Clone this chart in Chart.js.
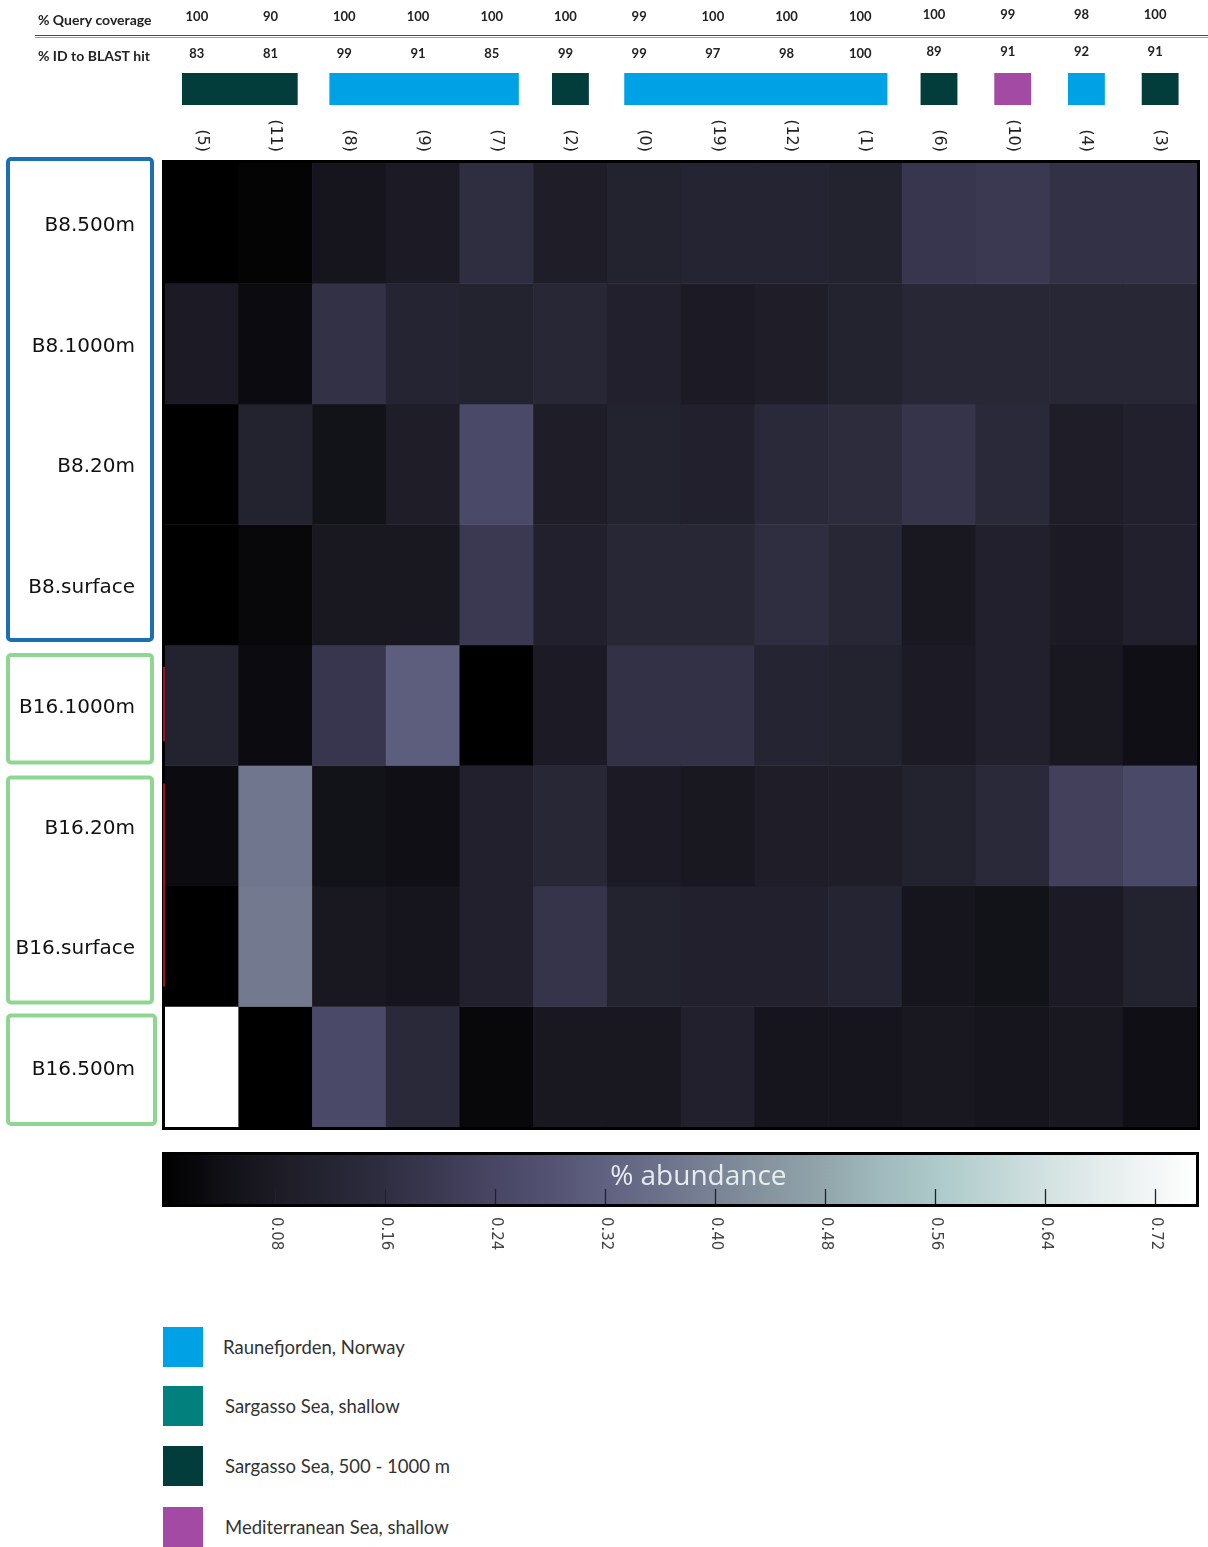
<!DOCTYPE html>
<html>
<head>
<meta charset="utf-8">
<script src="https://cdn.jsdelivr.net/npm/chart.js@4.4.1/dist/chart.umd.min.js"></script>
<style>
  html, body { margin: 0; padding: 0; background: #fff; }
  #page { position: relative; width: 1208px; height: 1547px; overflow: hidden; background: #fff; }
  #heat { position: absolute; left: 0; top: 0; }
  #scaleBar { position: absolute; left: 0; top: 1140px; }
  .leg { position: absolute; left: 163px; height: 40px; display: flex; align-items: center;
         font-family: Lato, "Open Sans", sans-serif; font-size: 18.5px; color: #333; white-space: nowrap; }
  .leg i { display: inline-block; width: 40px; height: 40px; margin-right: 20px; }
</style>
</head>
<body>
<div id="page">
  <canvas id="heat" width="1208" height="1140"></canvas>
  <canvas id="scaleBar" width="1208" height="130"></canvas>
  <div id="legend"></div>
</div>
<script>
// Phylotypes (columns), in plotted order
const columnIds = ['(5)', '(11)', '(8)', '(9)', '(7)', '(2)', '(0)', '(19)', '(12)', '(1)', '(6)', '(10)', '(4)', '(3)'];
const queryCoverage = [100, 90, 100, 100, 100, 100, 99, 100, 100, 100, 100, 99, 98, 100];
const idToBlastHit = [83, 81, 99, 91, 85, 99, 99, 97, 98, 100, 89, 91, 92, 91];

// Origin of the closest BLAST hit for each column (index into originNames)
const originNames = ['Raunefjorden, Norway', 'Sargasso Sea, shallow', 'Sargasso Sea, 500 - 1000 m', 'Mediterranean Sea, shallow'];
const originColors = ['#00a2e6', '#01807d', '#033d3b', '#a24aa4'];
const columnOrigin = [2, 2, 0, 0, 0, 2, 0, 0, 0, 0, 2, 3, 0, 2];

// Samples (rows)
const sampleLabels = ['B8.500m', 'B8.1000m', 'B8.20m', 'B8.surface', 'B16.1000m', 'B16.20m', 'B16.surface', 'B16.500m'];

// % abundance per sample, one value per column
const b8_500m     = [0.00, 0.01, 0.06, 0.08, 0.16, 0.09, 0.11, 0.12, 0.12, 0.11, 0.19, 0.20, 0.17, 0.17];
const b8_1000m    = [0.08, 0.03, 0.17, 0.12, 0.11, 0.13, 0.10, 0.08, 0.09, 0.11, 0.13, 0.13, 0.13, 0.13];
const b8_20m      = [0.00, 0.11, 0.05, 0.09, 0.25, 0.09, 0.11, 0.10, 0.14, 0.15, 0.18, 0.14, 0.09, 0.10];
const b8_surface  = [0.00, 0.02, 0.07, 0.07, 0.20, 0.10, 0.13, 0.13, 0.16, 0.13, 0.07, 0.10, 0.08, 0.10];
const b16_1000m   = [0.11, 0.03, 0.19, 0.31, 0.00, 0.08, 0.17, 0.17, 0.12, 0.11, 0.08, 0.10, 0.07, 0.04];
const b16_20m     = [0.03, 0.37, 0.05, 0.04, 0.10, 0.13, 0.08, 0.07, 0.09, 0.09, 0.11, 0.14, 0.22, 0.25];
const b16_surface = [0.00, 0.38, 0.07, 0.06, 0.10, 0.18, 0.11, 0.10, 0.10, 0.12, 0.06, 0.05, 0.08, 0.11];
const b16_500m    = [0.75, 0.00, 0.25, 0.14, 0.02, 0.07, 0.07, 0.10, 0.06, 0.06, 0.07, 0.06, 0.07, 0.04];
const abundanceRows = [b8_500m, b8_1000m, b8_20m, b8_surface, b16_1000m, b16_20m, b16_surface, b16_500m];

// Colour scale
const abundanceMin = 0;
const abundanceMax = 0.75;
const colorbarTicks = [0.08, 0.16, 0.24, 0.32, 0.40, 0.48, 0.56, 0.64, 0.72];

// black -> dusky violet -> grey-teal -> white
const rampStops = [
  [0.00, 0, 0, 0], [0.04, 15, 15, 21], [0.08, 28, 27, 37], [0.12, 37, 36, 50],
  [0.16, 47, 46, 65], [0.20, 59, 57, 82], [0.24, 72, 70, 100], [0.28, 83, 82, 114],
  [0.32, 96, 97, 128], [0.36, 108, 113, 138], [0.40, 121, 131, 149], [0.44, 134, 149, 160],
  [0.48, 146, 166, 171], [0.52, 159, 185, 188], [0.56, 172, 201, 201], [0.60, 191, 213, 213],
  [0.64, 210, 225, 225], [0.68, 228, 236, 236], [0.72, 243, 246, 246], [0.75, 255, 255, 255]
];
function colorFor(v) {
  if (v <= rampStops[0][0]) return `rgb(${rampStops[0].slice(1).join(',')})`;
  for (let i = 1; i < rampStops.length; i++) {
    const a = rampStops[i - 1], b = rampStops[i];
    if (v <= b[0]) {
      const t = (v - a[0]) / (b[0] - a[0]);
      const c = [1, 2, 3].map(k => Math.round(a[k] + (b[k] - a[k]) * t));
      return `rgb(${c.join(',')})`;
    }
  }
  return 'rgb(255,255,255)';
}

// Sample groups framed beside the row labels
const groupFrames = [
  { from: 0, to: 3, color: '#1d6fb4', dTop: -4, dBottom: -5, right: 152 },
  { from: 4, to: 4, color: '#8fd693', dTop: 10, dBottom: -3, right: 152 },
  { from: 5, to: 6, color: '#8fd693', dTop: 12, dBottom: -4, right: 152 },
  { from: 7, to: 7, color: '#8fd693', dTop: 9, dBottom: -3, right: 155 }
];

function roundRect(ctx, x, y, w, h, r) {
  ctx.beginPath();
  ctx.moveTo(x + r, y);
  ctx.arcTo(x + w, y, x + w, y + h, r);
  ctx.arcTo(x + w, y + h, x, y + h, r);
  ctx.arcTo(x, y + h, x, y, r);
  ctx.arcTo(x, y, x + w, y, r);
  ctx.closePath();
}

const heatDecor = {
  id: 'heatDecor',
  afterDatasetsDraw(chart) {
    const { ctx, chartArea: a, scales: { x, y } } = chart;
    const colW = x.getPixelForValue(1) - x.getPixelForValue(0);
    ctx.save();

    // frame around the grid
    ctx.strokeStyle = '#000';
    ctx.lineWidth = 3;
    ctx.strokeRect(a.left - 1.5, a.top - 1.5, a.right - a.left + 3, a.bottom - a.top + 3);
    ctx.fillStyle = '#000';
    ctx.fillRect(a.right, a.top, 2, a.bottom - a.top + 2);
    ctx.fillRect(a.left, a.bottom, a.right - a.left + 2, 2);

    // thin red marks on the left edge of the B16 block
    ctx.strokeStyle = '#9c1220';
    ctx.lineWidth = 2;
    ctx.beginPath();
    ctx.moveTo(a.left - 1, y.getPixelForValue(4) + 22); ctx.lineTo(a.left - 1, y.getPixelForValue(5) - 24);
    ctx.moveTo(a.left - 1, y.getPixelForValue(5) + 18); ctx.lineTo(a.left - 1, y.getPixelForValue(7) - 20);
    ctx.stroke();

    // header rows
    ctx.fillStyle = '#222';
    ctx.font = 'bold 14px Lato, "Open Sans", sans-serif';
    ctx.textAlign = 'left';
    ctx.textBaseline = 'middle';
    ctx.fillText('% Query coverage', 38, 20);
    ctx.fillText('% ID to BLAST hit', 38, 56);
    ctx.font = 'bold 13px Lato, "Open Sans", sans-serif';
    ctx.textAlign = 'center';
    columnIds.forEach((id, i) => {
      const cx = x.getPixelForValue(i) - 5;
      const lift = i >= 10 ? 2 : 0;
      ctx.fillText(String(queryCoverage[i]), cx, 17 - lift);
      ctx.fillText(String(idToBlastHit[i]), cx, 54 - lift);
    });

    // rule under the coverage row
    ctx.fillStyle = '#4a4a4a';
    ctx.fillRect(35, 35, 1173, 1);
    ctx.fillStyle = '#9a9a9a';
    ctx.fillRect(35, 37, 1173, 1);

    // origin bars, one per run of columns with the same origin
    let start = 0;
    for (let i = 1; i <= columnOrigin.length; i++) {
      if (i === columnOrigin.length || columnOrigin[i] !== columnOrigin[start]) {
        const single = start === i - 1;
        const left = x.getPixelForValue(start) - (single ? colW * 0.25 : colW * 0.27);
        const right = x.getPixelForValue(i - 1) + (single ? colW * 0.25 : colW * 0.30);
        ctx.fillStyle = originColors[columnOrigin[start]];
        ctx.fillRect(left, 73, right - left, 32);
        start = i;
      }
    }

    // column ids, rotated to read downwards
    ctx.fillStyle = '#222';
    ctx.font = '16px "DejaVu Sans", sans-serif';
    columnIds.forEach((id, i) => {
      ctx.save();
      ctx.translate(x.getPixelForValue(i), 152);
      ctx.rotate(Math.PI / 2);
      ctx.textAlign = 'right';
      ctx.textBaseline = 'middle';
      ctx.fillText(id, 0, 0);
      ctx.restore();
    });

    // group frames
    groupFrames.forEach(g => {
      const top = y.getPixelForValue(g.from) + g.dTop;
      const bottom = y.getPixelForValue(g.to + 1) + g.dBottom;
      ctx.strokeStyle = g.color;
      ctx.lineWidth = 4;
      roundRect(ctx, 8, top, g.right - 8, bottom - top, 3);
      ctx.stroke();
    });

    // sample labels
    ctx.fillStyle = '#111';
    ctx.font = '20px "DejaVu Sans", sans-serif';
    ctx.textAlign = 'right';
    ctx.textBaseline = 'middle';
    sampleLabels.forEach((s, r) => {
      ctx.fillText(s, 135, (y.getPixelForValue(r) + y.getPixelForValue(r + 1)) / 2 + 3);
    });

    ctx.restore();
  }
};

new Chart(document.getElementById('heat'), {
  type: 'bar',
  data: {
    labels: columnIds,
    datasets: sampleLabels.map((name, r) => ({
      label: name,
      data: columnIds.map(() => [r, r + 1]),
      backgroundColor: abundanceRows[r].map(colorFor),
      borderWidth: 0,
      barPercentage: 1,
      categoryPercentage: 1,
      grouped: false
    }))
  },
  options: {
    responsive: false,
    animation: false,
    layout: { padding: { left: 165, top: 163, right: 11, bottom: 13 } },
    plugins: { legend: { display: false }, tooltip: { enabled: false } },
    scales: {
      x: { type: 'category', display: false },
      y: { type: 'linear', min: 0, max: sampleLabels.length, reverse: true, display: false }
    }
  },
  plugins: [heatDecor]
});

// Colour bar
const scaleDecor = {
  id: 'scaleDecor',
  afterDatasetsDraw(chart) {
    const { ctx, chartArea: a, scales: { x } } = chart;
    ctx.save();
    // tick marks inside the bar
    ctx.strokeStyle = '#222';
    ctx.lineWidth = 1.3;
    colorbarTicks.forEach(t => {
      const px = Math.round(x.getPixelForValue(t)) + 0.5;
      ctx.beginPath();
      ctx.moveTo(px, a.bottom - 15);
      ctx.lineTo(px, a.bottom);
      ctx.stroke();
    });
    // frame
    ctx.strokeStyle = '#000';
    ctx.lineWidth = 3;
    ctx.strokeRect(a.left - 1.5, a.top - 1.5, a.right - a.left + 3, a.bottom - a.top + 3);
    ctx.fillStyle = '#000';
    ctx.fillRect(a.right, a.top, 2, a.bottom - a.top + 2);
    ctx.fillRect(a.left, a.bottom, a.right - a.left + 2, 2);
    // title inside the bar
    ctx.fillStyle = 'rgba(236,242,242,0.95)';
    ctx.font = '28px "Open Sans", sans-serif';
    ctx.textAlign = 'center';
    ctx.textBaseline = 'middle';
    ctx.fillText('% abundance', x.getPixelForValue(0.388), a.top + 22);
    // tick labels, rotated to read downwards
    ctx.fillStyle = '#444';
    ctx.font = '15px "DejaVu Sans", sans-serif';
    colorbarTicks.forEach(t => {
      ctx.save();
      ctx.translate(x.getPixelForValue(t) + 1, a.bottom + 13);
      ctx.rotate(Math.PI / 2);
      ctx.textAlign = 'left';
      ctx.textBaseline = 'middle';
      ctx.fillText(t.toFixed(2), 0, 0);
      ctx.restore();
    });
    ctx.restore();
  }
};

new Chart(document.getElementById('scaleBar'), {
  type: 'bar',
  data: {
    labels: ['% abundance'],
    datasets: [{
      data: [[abundanceMin, abundanceMax]],
      backgroundColor(context) {
        const { chart } = context;
        const sx = chart.scales.x;
        if (!chart.chartArea || !sx) return '#888';
        const g = chart.ctx.createLinearGradient(sx.getPixelForValue(abundanceMin), 0, sx.getPixelForValue(abundanceMax), 0);
        rampStops.forEach(s => g.addColorStop((s[0] - abundanceMin) / (abundanceMax - abundanceMin), `rgb(${s[1]},${s[2]},${s[3]})`));
        return g;
      },
      borderWidth: 0,
      barPercentage: 1,
      categoryPercentage: 1
    }]
  },
  options: {
    indexAxis: 'y',
    responsive: false,
    animation: false,
    layout: { padding: { left: 165, top: 15, right: 12, bottom: 66 } },
    plugins: { legend: { display: false }, tooltip: { enabled: false } },
    scales: {
      x: { type: 'linear', min: abundanceMin, max: abundanceMax, display: false },
      y: { type: 'category', display: false }
    }
  },
  plugins: [scaleDecor]
});

// Legend of BLAST-hit origins
const legendTops = [1327, 1386, 1446, 1507];
const legendEl = document.getElementById('legend');
originNames.forEach((name, i) => {
  const row = document.createElement('div');
  row.className = 'leg';
  row.style.top = legendTops[i] + 'px';
  const sw = document.createElement('i');
  sw.style.background = originColors[i];
  if (i > 0) sw.style.marginRight = '22px';
  row.appendChild(sw);
  row.appendChild(document.createTextNode(name));
  legendEl.appendChild(row);
});
</script>
</body>
</html>
